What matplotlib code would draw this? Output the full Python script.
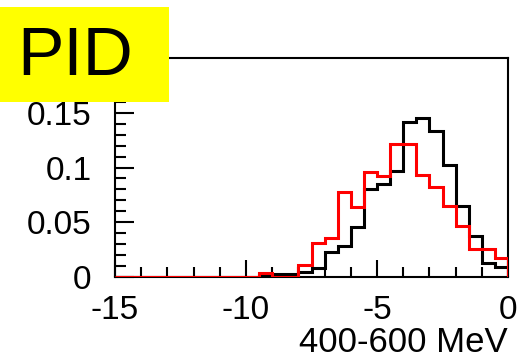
import numpy as np
import matplotlib.pyplot as plt
from matplotlib.patches import Rectangle

plt.rcParams['font.family'] = ['Liberation Sans', 'DejaVu Sans']
plt.rcParams['axes.unicode_minus'] = False

# bin edges: 30 bins of 0.5 from -15 to 0
edges = [-15 + 0.5 * k for k in range(31)]

black_vals = [0, 0, 0, 0, 0, 0, 0, 0, 0, 0,
              0, 0.002, 0.003, 0.003, 0.005, 0.008, 0.023, 0.028, 0.046, 0.080,
              0.085, 0.097, 0.1415, 0.145, 0.133, 0.102, 0.065, 0.037, 0.013, 0.0095]
red_vals = [0, 0, 0, 0, 0, 0, 0, 0, 0, 0,
            0, 0.004, 0, 0, 0.011, 0.031, 0.0356, 0.0776, 0.064, 0.096,
            0.092, 0.1215, 0.1215, 0.093, 0.0826, 0.0647, 0.047, 0.0255, 0.0255, 0.017]

xticks = [-15, -10, -5, 0]
yticks = [0, 0.05, 0.1, 0.15]
ytick_labels = ['0', '0.05', '0.1', '0.15']

W, H = 521, 360
fig = plt.figure(figsize=(W / 100, H / 100), dpi=100)
ax = fig.add_axes([115 / W, 1 - 277 / H, (508 - 115) / W, (277 - 58) / H])

ax.stairs(black_vals, edges, color='black', linewidth=2.2, baseline=0, zorder=2)
ax.stairs(red_vals, edges, color='red', linewidth=2.2, baseline=0, zorder=3)

ax.set_xlim(-15, 0)
ax.set_ylim(0, 0.2)
ax.set_xticks(xticks)
ax.set_xticklabels([str(t) for t in xticks])
ax.set_xticks(np.arange(-15, 0.01, 1), minor=True)
ax.set_yticks(yticks)
ax.set_yticklabels(ytick_labels)
ax.set_yticks(np.arange(0, 0.2, 0.01), minor=True)
ax.tick_params(which='both', direction='in', top=False, right=False,
               width=1.5, labelsize=24)
ax.tick_params(which='major', axis='y', length=14, pad=17)
ax.tick_params(which='minor', axis='y', length=8)
ax.tick_params(which='major', axis='x', length=12, pad=13)
ax.tick_params(which='minor', axis='x', length=7)
for s in ax.spines.values():
    s.set_linewidth(1.5)

ax.set_xlabel('400-600 MeV', fontsize=25, loc='right', labelpad=0)

# yellow label box
fig.patches.append(Rectangle((0, 1 - 102 / H), 169 / W, 95 / H,
                             transform=fig.transFigure, facecolor='#ffff00',
                             edgecolor='none', zorder=5))
fig.text(17 / W, 1 - 57 / H, 'PID', fontsize=50, va='center', ha='left', zorder=6)

fig.savefig('out.png', dpi=100)
